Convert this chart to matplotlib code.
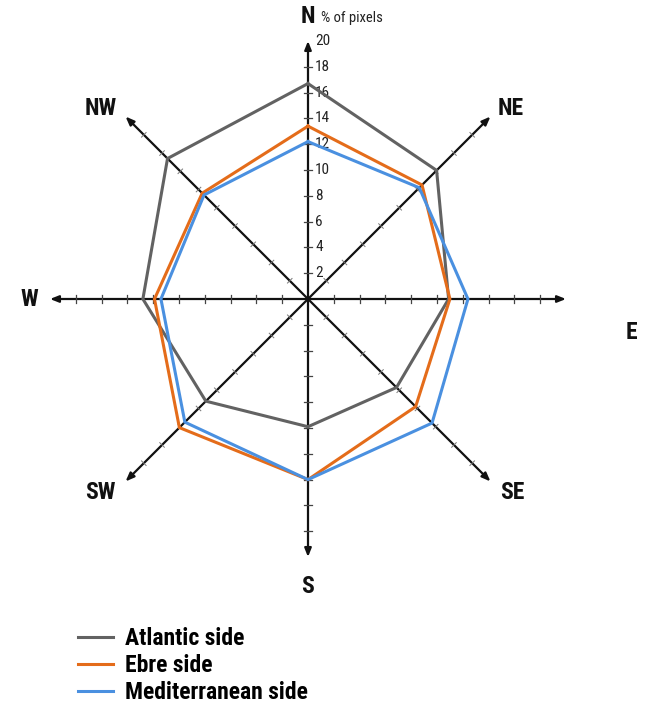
import numpy as np
import matplotlib
matplotlib.use("Agg")
import matplotlib.pyplot as plt

# ---- data ----
directions = ["N", "NE", "E", "SE", "S", "SW", "W", "NW"]
angles_deg = [90, 45, 0, -45, -90, -135, 180, 135]
atlantic = [16.7, 14.1, 10.9, 9.7, 9.9, 11.2, 12.8, 15.4]
ebre = [13.4, 12.5, 11.0, 11.8, 14.0, 14.1, 11.9, 11.6]
mediterranean = [12.2, 12.2, 12.4, 13.6, 14.0, 13.5, 11.4, 11.4]
series_names = ["Atlantic side", "Ebre side", "Mediterranean side"]
tick_values = [2, 4, 6, 8, 10, 12, 14, 16, 18, 20]
axis_max = 20

colors = ["#626262", "#E46C1A", "#4A90E0"]
FONT = ["Roboto Condensed", "Liberation Sans Narrow", "DejaVu Sans"]

W, H, DPI = 653, 718, 100
scale = 12.9  # px per unit
cx, cy = 308, 299

fig = plt.figure(figsize=(W / DPI, H / DPI), dpi=DPI)
ax = fig.add_axes([0, 0, 1, 1])
ax.set_xlim(-cx / scale, (W - cx) / scale)
ax.set_ylim(-(H - cy) / scale, cy / scale)
ax.set_aspect("equal")
ax.axis("off")

th = np.radians(angles_deg)

# axes with arrows and ticks
for i, a in enumerate(th):
    ux, uy = np.cos(a), np.sin(a)
    ax.annotate("", xy=(axis_max * ux, axis_max * uy), xytext=(0, 0),
                arrowprops=dict(arrowstyle="-|>,head_length=0.5,head_width=0.2",
                                color="#111111", lw=1.6, shrinkA=0, shrinkB=0),
                zorder=2)
    px, py = -uy, ux
    diag = angles_deg[i] % 90 != 0
    L = 0.25 if diag else 0.32
    for t in tick_values[:-1]:
        ax.plot([t * ux - L * px, t * ux + L * px], [t * uy - L * py, t * uy + L * py],
                color="#777777" if diag else "#444444", lw=0.7 if diag else 0.9, zorder=2)

# tick labels on N axis
for t in tick_values:
    ax.text(0.55, t, str(t), fontsize=11, family=FONT, va="center", ha="left",
            color="#222222")

# series
handles = []
for vals, col, name in zip([atlantic, ebre, mediterranean], colors, series_names):
    v = np.array(vals + vals[:1])
    a = np.concatenate([th, th[:1]])
    ln, = ax.plot(v * np.cos(a), v * np.sin(a), color=col, lw=2.2, zorder=3,
                  solid_joinstyle="miter", label=name)
    handles.append(ln)

# direction labels
label_pos = {"N": (0, 21.9), "NE": (15.7, 14.8), "E": (25.1, -2.6), "SE": (15.8, -15.0),
             "S": (0, -22.3), "SW": (-16.1, -15.0), "W": (-21.6, 0), "NW": (-16.1, 14.8)}
for d in directions:
    x, y = label_pos[d]
    ax.text(x, y, d, fontsize=17, fontweight="bold", family=FONT,
            ha="center", va="center", color="#111111")
ax.text(1.0, 21.75, "% of pixels", fontsize=10.5, family=FONT, ha="left", va="center",
        color="#222222")

fig.legend(handles=handles, labels=series_names, loc="upper left",
           bbox_to_anchor=(66 / W, 1 - 615 / H), frameon=False,
           prop=dict(family=FONT, weight="bold", size=17),
           handlelength=1.5, handletextpad=0.5, labelspacing=0.17, borderpad=0)

fig.savefig("out.png", dpi=DPI)
